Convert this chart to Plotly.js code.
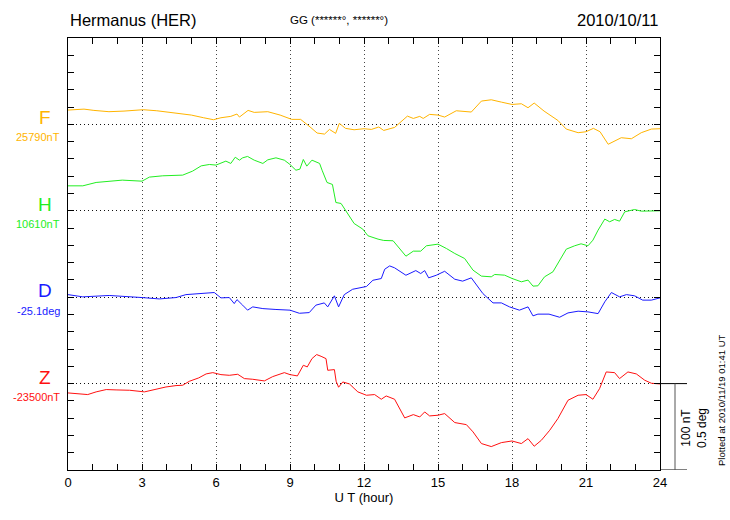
<!DOCTYPE html>
<html>
<head>
<meta charset="utf-8">
<script src="https://cdn.plot.ly/plotly-3.0.1.min.js"></script>
<style>html,body{margin:0;padding:0;background:#fff;}#chart{width:730px;height:520px;}</style>
</head>
<body>
<div id="chart"></div>
<script>
// ---- Data ----
const baseF = 25790, baseH = 10610, baseD = -25.1, baseZ = -23500;

const hoursF = [0,0.65,1.05,1.66,2.27,3.05,3.6,4.3,5.0,5.5,5.9,6.2,6.6,6.85,6.95,7.3,7.55,8.1,8.6,9.07,9.43,9.77,10.1,10.4,10.6,10.85,11.0,11.25,11.6,12.0,12.3,12.6,12.8,13.24,13.5,13.76,14.0,14.26,14.4,14.66,15.0,15.27,15.74,16.35,16.76,17.16,17.57,18.0,18.38,18.65,18.9,19.3,19.86,20.2,20.68,21.0,21.3,21.57,21.9,22.43,22.84,23.24,23.65,24.0];
const valuesF = [25806.6,25807.7,25806.2,25804.7,25805.4,25807.0,25805.8,25803.5,25800.8,25797.7,25795.4,25797.7,25799.3,25802.0,25798.5,25806.2,25803.9,25804.7,25800.8,25795.8,25795.8,25788.1,25780.0,25778.8,25784.2,25779.6,25791.2,25785.4,25783.8,25785.0,25784.2,25787.0,25783.0,25786.5,25793.1,25799.6,25796.9,25799.3,25796.9,25801.6,25800.8,25798.5,25805.8,25804.3,25817.0,25818.5,25815.8,25813.1,25813.9,25809.3,25814.7,25805.4,25794.6,25784.6,25780.4,25781.5,25785.4,25781.5,25767.0,25774.6,25773.4,25780.4,25784.6,25785.0];

const hoursH = [0,0.6,1.14,1.6,2.2,3.0,3.3,3.84,4.65,5.05,5.4,5.73,6.0,6.4,6.6,6.78,6.95,7.08,7.28,7.55,7.9,8.1,8.43,8.77,9.0,9.24,9.4,9.54,9.68,9.89,10.2,10.3,10.5,10.72,10.86,11.07,11.27,11.6,11.95,12.16,12.57,12.8,13.18,13.45,13.7,14.0,14.3,14.53,15.0,15.34,15.68,16.08,16.42,16.76,17.16,17.3,17.7,18.0,18.38,18.65,18.85,19.05,19.32,19.66,19.93,20.2,20.54,20.8,21.08,21.28,21.49,21.76,21.96,22.16,22.36,22.57,22.97,23.24,24.0];
const valuesH = [10638.9,10638.9,10642.8,10644.3,10645.5,10644.3,10649.0,10650.5,10651.3,10655.9,10662.0,10663.6,10662.9,10667.5,10664.8,10672.0,10668.6,10671.3,10672.9,10668.6,10664.8,10669.0,10671.3,10668.6,10663.6,10657.0,10658.2,10669.4,10661.7,10668.6,10664.8,10657.0,10642.8,10640.5,10619.6,10618.5,10610.0,10595.3,10588.8,10581.1,10577.2,10575.7,10575.3,10565.6,10557.5,10563.3,10563.3,10569.5,10571.4,10566.4,10560.6,10554.8,10541.3,10534.4,10533.6,10536.3,10535.5,10531.7,10527.8,10529.8,10522.8,10523.2,10533.6,10539.4,10552.9,10565.6,10569.5,10571.8,10569.5,10576.0,10587.6,10600.4,10597.3,10600.0,10598.0,10608.8,10611.5,10609.6,10610.0];

const hoursD = [0,0.6,1.67,2.5,3.0,3.7,4.38,4.78,5.3,5.93,6.2,6.54,6.74,6.85,7.08,7.28,7.49,7.9,8.43,9.0,9.38,9.78,10.05,10.39,10.53,10.8,10.97,11.2,11.54,11.95,12.1,12.36,12.7,12.84,13.04,13.24,13.45,13.7,14.1,14.3,14.46,14.62,14.93,15.27,15.68,16.0,16.35,16.82,17.23,17.57,17.9,18.3,18.65,18.85,19.05,19.5,19.93,20.27,20.68,21.08,21.49,21.76,22.03,22.36,22.64,22.97,23.3,23.65,24.0];
const valuesD = [-25.085,-25.098,-25.090,-25.096,-25.102,-25.110,-25.102,-25.085,-25.081,-25.073,-25.104,-25.102,-25.137,-25.114,-25.146,-25.175,-25.156,-25.166,-25.171,-25.175,-25.193,-25.189,-25.146,-25.133,-25.156,-25.092,-25.156,-25.085,-25.054,-25.040,-25.038,-25.002,-24.992,-24.938,-24.919,-24.930,-24.950,-24.973,-24.946,-24.963,-24.946,-24.988,-24.973,-24.950,-24.996,-25.007,-24.988,-25.079,-25.133,-25.133,-25.156,-25.175,-25.156,-25.208,-25.198,-25.198,-25.216,-25.191,-25.181,-25.185,-25.195,-25.127,-25.073,-25.098,-25.085,-25.092,-25.117,-25.117,-25.104];

const hoursZ = [0,0.8,1.14,1.55,1.95,2.5,3.1,3.57,3.97,4.38,4.65,4.92,5.3,5.6,5.87,6.2,6.54,6.88,7.15,7.49,7.96,8.3,8.77,9.0,9.3,9.54,9.7,9.89,10.08,10.26,10.46,10.53,10.8,10.87,10.97,11.14,11.41,11.75,12.1,12.43,12.7,12.9,13.24,13.65,14.0,14.26,14.46,14.66,15.0,15.27,15.68,16.15,16.42,16.76,17.16,17.57,18.0,18.38,18.65,18.9,19.19,19.53,19.86,20.27,20.68,21.0,21.28,21.55,21.82,22.16,22.36,22.7,23.04,23.38,23.65,24.0];
const valuesZ = [-23510.8,-23512.7,-23509.6,-23506.9,-23507.3,-23507.7,-23509.6,-23506.6,-23503.9,-23502.3,-23501.9,-23497.3,-23493.4,-23488.8,-23487.3,-23489.6,-23490.4,-23489.2,-23494.2,-23495.0,-23496.9,-23491.9,-23487.3,-23489.6,-23491.1,-23478.8,-23480.7,-23471.1,-23466.4,-23468.4,-23471.1,-23484.6,-23483.8,-23497.3,-23504.2,-23498.1,-23500.4,-23509.6,-23513.5,-23512.7,-23518.1,-23514.3,-23518.1,-23539.7,-23535.9,-23538.6,-23532.8,-23537.4,-23536.6,-23534.7,-23545.1,-23547.5,-23555.9,-23569.4,-23572.9,-23568.3,-23566.4,-23569.4,-23563.7,-23572.5,-23565.6,-23554.0,-23540.5,-23519.3,-23513.5,-23512.7,-23518.1,-23505.8,-23486.5,-23487.3,-23494.2,-23486.5,-23488.8,-23496.1,-23499.6,-23500.4];

const xTickVals = [0,3,6,9,12,15,18,21,24];
const xTickText = ['0','3','6','9','12','15','18','21','24'];

// Component offsets on the common stacked scale (20 nT per minor tick, 0.1 deg per minor tick for D)
const offF = 400, offH = 300, offD = 200, offZ = 100;
const nTscale = 1, degScale = 200;

const colF = '#ffb400', colH = '#22ee22', colD = '#1a1aff', colZ = '#ff1010';
const font = 'Liberation Sans, Arial, Helvetica, sans-serif';

function stackNT(vals, base, off){ return vals.map(v => off + (v - base) * nTscale); }
function stackDeg(vals, base, off){ return vals.map(v => off + (v - base) * degScale); }

const traces = [
  {x: hoursF, y: stackNT(valuesF, baseF, offF), mode:'lines', line:{color:colF, width:1}, name:'F'},
  {x: hoursH, y: stackNT(valuesH, baseH, offH), mode:'lines', line:{color:colH, width:1}, name:'H'},
  {x: hoursD, y: stackDeg(valuesD, baseD, offD), mode:'lines', line:{color:colD, width:1}, name:'D'},
  {x: hoursZ, y: stackNT(valuesZ, baseZ, offZ), mode:'lines', line:{color:colZ, width:1}, name:'Z'}
];

const L = 68, R = 660, T = 38, B = 470;
const px = x => (x - L) / (R - L);
const py = y => (B - y) / (B - T);

const ann = [
  {text:'Hermanus (HER)', x:0, y:py(20), xanchor:'left', yanchor:'middle', font:{size:16.5, color:'#000'}},
  {text:'GG (******°, ******°)', x:px(339), y:py(20), xanchor:'center', yanchor:'middle', font:{size:11.5, color:'#000'}},
  {text:'2010/10/11', x:1, y:py(20), xanchor:'right', yanchor:'middle', font:{size:16.5, color:'#000'}},
  {text:'F', x:px(45), y:py(117.5), xanchor:'center', yanchor:'middle', font:{size:19, color:colF}},
  {text:'25790nT', x:px(62), y:py(137), xanchor:'right', yanchor:'middle', font:{size:11, color:colF}},
  {text:'H', x:px(45), y:py(204.5), xanchor:'center', yanchor:'middle', font:{size:19, color:colH}},
  {text:'10610nT', x:px(62), y:py(223.5), xanchor:'right', yanchor:'middle', font:{size:11, color:colH}},
  {text:'D', x:px(45), y:py(290.5), xanchor:'center', yanchor:'middle', font:{size:19, color:colD}},
  {text:'-25.1deg', x:px(62), y:py(311), xanchor:'right', yanchor:'middle', font:{size:11, color:colD}},
  {text:'Z', x:px(45), y:py(377), xanchor:'center', yanchor:'middle', font:{size:19, color:colZ}},
  {text:'-23500nT', x:px(62), y:py(397), xanchor:'right', yanchor:'middle', font:{size:11, color:colZ}},
  {text:'100 nT<br>0.5 deg', x:px(694), y:py(428), xanchor:'center', yanchor:'middle', textangle:-90, font:{size:12, color:'#000'}},
  {text:'Plotted at 2010/11/19 01:41 UT', x:px(721), y:py(400), xanchor:'center', yanchor:'middle', textangle:-90, font:{size:9.5, color:'#000'}}
].map(a => Object.assign({xref:'paper', yref:'paper', showarrow:false}, a));

const layout = {
  width:730, height:520,
  margin:{l:L, r:730-R, t:T, b:520-B, pad:0},
  paper_bgcolor:'#fff', plot_bgcolor:'#fff',
  showlegend:false,
  font:{family:font, color:'#000'},
  xaxis:{
    range:[0,24], tickvals:xTickVals, ticktext:xTickText,
    ticks:'inside', ticklen:6, tickcolor:'#000', tickwidth:1,
    showline:true, linecolor:'#000', linewidth:1, mirror:'ticks',
    showgrid:true, gridcolor:'#444', griddash:'1px,3px', gridwidth:1,
    zeroline:false, tickfont:{size:13},
    minor:{dtick:1, ticks:'inside', ticklen:6, tickcolor:'#000', showgrid:false},
    title:{text:'U T (hour)', font:{size:13}, standoff:3},
    fixedrange:true
  },
  yaxis:{
    range:[0,500], tickvals:[0,100,200,300,400,500], showticklabels:false,
    ticks:'inside', ticklen:6, tickcolor:'#000', tickwidth:1,
    showline:true, linecolor:'#000', linewidth:1, mirror:'ticks',
    showgrid:true, gridcolor:'#111', griddash:'1px,3px', gridwidth:1,
    zeroline:false,
    minor:{dtick:20, ticks:'inside', ticklen:6, tickcolor:'#000', showgrid:false},
    fixedrange:true
  },
  shapes:[
    {type:'line', xref:'paper', yref:'y', x0:1, x1:px(687), y0:offZ, y1:offZ, line:{color:'#000', width:1}},
    {type:'line', xref:'paper', yref:'y', x0:1, x1:px(687), y0:0, y1:0, line:{color:'#000', width:1}},
    {type:'line', xref:'paper', yref:'y', x0:px(675), x1:px(675), y0:0, y1:offZ, line:{color:'#555', width:1}}
  ],
  annotations:ann
};

Plotly.newPlot('chart', traces, layout, {staticPlot:true, displayModeBar:false});
</script>
</body>
</html>
